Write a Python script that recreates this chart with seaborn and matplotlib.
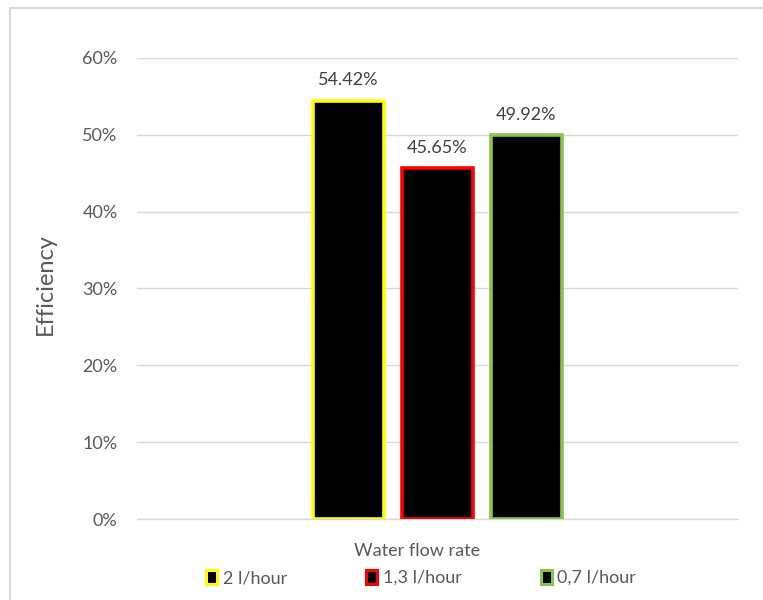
import matplotlib.pyplot as plt
import matplotlib.patches as mpatches
import matplotlib.ticker as mtick
import pandas as pd
import seaborn as sns

# Data
category = ['Water flow rate']
flow_rates = ['2 l/hour', '1,3 l/hour', '0,7 l/hour']
efficiency = [0.5442, 0.4565, 0.4992]
edge_colors = ['#FFFF00', '#FF0000', '#8BC34A']

df = pd.DataFrame({
    'category': category * len(flow_rates),
    'flow': flow_rates,
    'efficiency': efficiency,
})

sns.set_style('white')
plt.rcParams['font.family'] = ['Lato', 'DejaVu Sans']
text_col = '#595959'

fig = plt.figure(figsize=(7.63, 6), dpi=100)
ax = fig.add_axes([137 / 763, 81 / 600, 601 / 763, 461 / 600])

sns.barplot(data=df, x='category', y='efficiency', hue='flow',
            hue_order=flow_rates, width=0.444, gap=0.2,
            palette=['black'] * 3, legend=False, ax=ax)

for patch, col in zip(ax.patches, edge_colors):
    patch.set_edgecolor(col)
    patch.set_linewidth(2.6)
    patch.set_facecolor('black')

for patch, val in zip(ax.patches, efficiency):
    ax.annotate(f'{val * 100:.2f}%',
                (patch.get_x() + patch.get_width() / 2, patch.get_height()),
                xytext=(0, 9), textcoords='offset points',
                ha='center', va='bottom', fontsize=13, color='#404040')

ax.set_xlim(-0.5, 0.5)
ax.set_ylim(0, 0.6)
ax.yaxis.set_major_locator(mtick.MultipleLocator(0.1))
ax.yaxis.set_major_formatter(mtick.PercentFormatter(1.0, decimals=0))
ax.grid(axis='y', color='#D9D9D9', linewidth=1)
ax.axhline(0, color='#D9D9D9', linewidth=1, clip_on=False, zorder=0.5)
ax.set_axisbelow(True)
for s in ax.spines.values():
    s.set_visible(False)
ax.tick_params(axis='y', length=0, pad=14, labelsize=13, labelcolor=text_col)
ax.set_xticks([])
ax.set_xlabel('Water flow rate', fontsize=13, color=text_col)
ax.xaxis.set_label_coords(0.466, -0.052)
ax.set_ylabel('Efficiency', fontsize=17, color=text_col)
ax.yaxis.set_label_coords(-0.135, 0.51)

handles = [mpatches.Patch(facecolor='black', edgecolor=c, linewidth=2.2, label=l)
           for c, l in zip(edge_colors, flow_rates)]
fig.legend(handles=handles, loc='center', bbox_to_anchor=(0.552, 1 - 578 / 600),
           ncol=3, frameon=False, fontsize=13, labelcolor=text_col,
           handlelength=0.6, handleheight=0.8, handletextpad=0.3, columnspacing=4.4)

# outer chart border
fig.patches.append(mpatches.Rectangle((10 / 763, -0.05), 1.0, 1 - 7.5 / 600 + 0.05,
                                      transform=fig.transFigure, fill=False,
                                      edgecolor='#D9D9D9', linewidth=1.5))

fig.savefig('out.png', dpi=100)
